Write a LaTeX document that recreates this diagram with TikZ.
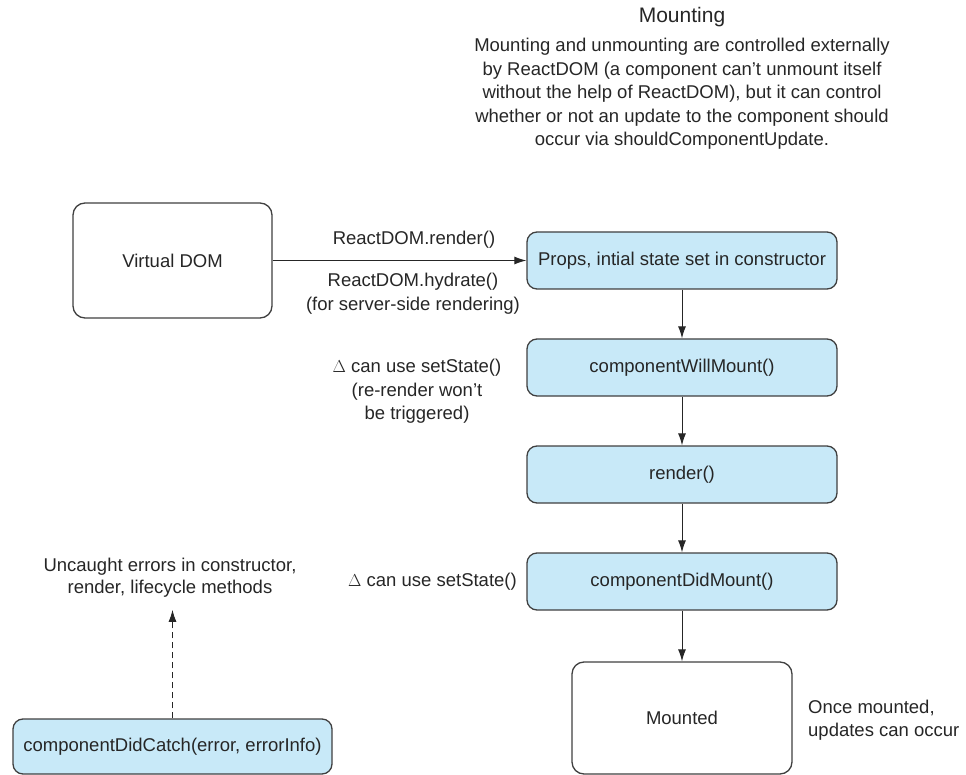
\documentclass[tikz,border=0pt]{standalone}
\usepackage{fontspec}
\setmainfont{Liberation Sans}
\usetikzlibrary{arrows.meta}
\definecolor{boxblue}{RGB}{200,233,248}
\definecolor{boxline}{RGB}{64,64,64}
\begin{document}
\begin{tikzpicture}[x=1pt,y=-1pt,
  every node/.style={font=\fontsize{18.5}{23.5}\selectfont, text=black!85},
  bluebox/.style={draw=boxline, line width=1.3pt, fill=boxblue, rounded corners=10pt, inner sep=0pt},
  whitebox/.style={draw=boxline, line width=1.3pt, fill=white, rounded corners=12pt, inner sep=0pt},
  txt/.style={inner sep=0pt, align=center},
  flow/.style={draw=black!85, line width=1pt, -{Latex[length=12pt,width=8pt]}}
]
\useasboundingbox (0,0) rectangle (966,775);

% title and paragraph
\node[txt, font=\fontsize{21}{24}\selectfont] (title) at (682,17) {Mounting};
\node[txt] (para) at (682,94) {Mounting and unmounting are controlled externally\\
by ReactDOM (a component can’t unmount itself\\
without the help of ReactDOM), but it can control\\
whether or not an update to the component should\\
occur via shouldComponentUpdate.};

% boxes
\node[whitebox, minimum width=199pt, minimum height=115pt] (vdom) at (172.5,260.5) {Virtual DOM};
\node[bluebox, minimum width=310pt, minimum height=57pt] (props) at (682,260.5) {Props, intial state set in constructor};
\node[bluebox, minimum width=310pt, minimum height=57pt] (will) at (682,367.5) {componentWillMount()};
\node[bluebox, minimum width=310pt, minimum height=57pt] (rend) at (682,474.5) {render()};
\node[bluebox, minimum width=310pt, minimum height=57pt] (did) at (682,581.5) {componentDidMount()};
\node[whitebox, minimum width=220pt, minimum height=112pt] (mounted) at (682,718) {Mounted};
\node[bluebox, minimum width=319pt, minimum height=55pt] (catch) at (172.5,746.5) {componentDidCatch(error, errorInfo)};

% labels
\node[txt] (lrender) at (414,240) {ReactDOM.render()};
\node[txt] (lhydrate) at (413,293.5) {ReactDOM.hydrate()\\(for server-side rendering)};
\node[txt] (lwill) at (417,391.5) {$\Delta$ can use setState()\\(re-render won’t\\be triggered)};
\node[txt, anchor=east] (ldid) at (517,581.5) {$\Delta$ can use setState()};
\node[txt, align=left, anchor=west] (lmounted) at (808,720) {Once mounted,\\updates can occur};
\node[txt, font=\fontsize{18.5}{22}\selectfont] (lerr) at (170,578) {Uncaught errors in constructor,\\render, lifecycle methods};

% connectors
\draw[flow] (vdom.east) -- (props.west);
\draw[flow] (props) -- (will);
\draw[flow] (will) -- (rend);
\draw[flow] (rend) -- (did);
\draw[flow] (did) -- (mounted);
\draw[flow, dashed, dash pattern=on 6pt off 4pt] (catch.north) -- (catch.north |- lerr.south) [shorten >=12pt];
\end{tikzpicture}
\end{document}
